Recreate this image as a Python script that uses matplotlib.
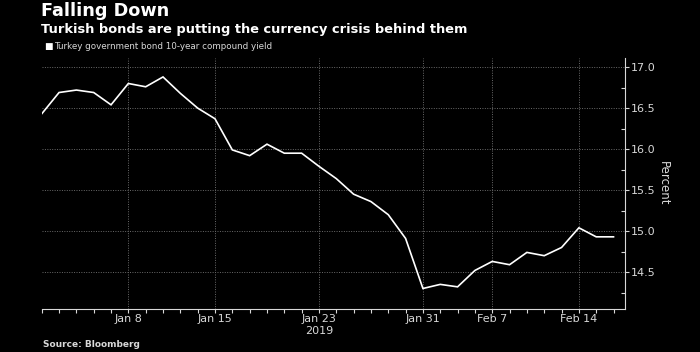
import matplotlib
matplotlib.use("Agg")
import matplotlib.pyplot as plt
from matplotlib.ticker import MultipleLocator, FixedLocator

# trading days (evenly spaced on the axis) and 10-year yield, percent
dates = ["Jan 1", "Jan 2", "Jan 3", "Jan 4", "Jan 7", "Jan 8", "Jan 9", "Jan 10",
         "Jan 11", "Jan 14", "Jan 15", "Jan 16", "Jan 17", "Jan 18", "Jan 21",
         "Jan 22", "Jan 23", "Jan 24", "Jan 25", "Jan 28", "Jan 29", "Jan 30",
         "Jan 31", "Feb 1", "Feb 4", "Feb 6", "Feb 7", "Feb 8", "Feb 11",
         "Feb 12", "Feb 13", "Feb 14", "Feb 15", "Feb 18"]
yields = [16.43, 16.69, 16.72, 16.69, 16.54, 16.80, 16.76, 16.88,
          16.68, 16.50, 16.37, 15.99, 15.92, 16.06, 15.95,
          15.95, 15.79, 15.64, 15.45, 15.36, 15.20, 14.91,
          14.30, 14.35, 14.32, 14.52, 14.63, 14.59, 14.74,
          14.70, 14.80, 15.04, 14.93, 14.93]
tick_labels = ["Jan 8", "Jan 15", "Jan 23", "Jan 31", "Feb 7", "Feb 14"]
y_ticks = [14.5, 15.0, 15.5, 16.0, 16.5, 17.0]

bg = "#000000"
fg = "#d8d8d8"
grid_col = "#6a6a6a"

fig = plt.figure(figsize=(7.0, 3.52), dpi=100, facecolor=bg)
ax = fig.add_axes([0.0596, 0.1222, 0.8337, 0.7128], facecolor=bg)

x = list(range(len(dates)))
ax.plot(x, yields, color="white", lw=1.2, solid_joinstyle="miter")

ax.set_xlim(0, len(dates) - 0.32)
ax.set_ylim(14.05, 17.11)

# x axis: a minor tick for every trading day, labels at a few dates
major_pos = [dates.index(d) for d in tick_labels]
ax.xaxis.set_major_locator(FixedLocator(major_pos))
ax.xaxis.set_minor_locator(FixedLocator(x))
ax.set_xticklabels(tick_labels)
ax.tick_params(axis="x", which="both", direction="out", length=3, width=0.8,
               color=fg, labelcolor=fg, labelsize=8, pad=0.5)
ax.text(dates.index("Jan 23"), 13.785, "2019", color=fg, fontsize=8,
        ha="center", va="center", transform=ax.transData)

# y axis on the right
ax.yaxis.tick_right()
ax.yaxis.set_label_position("right")
ax.yaxis.set_major_locator(FixedLocator(y_ticks))
ax.yaxis.set_minor_locator(MultipleLocator(0.25))
ax.set_yticklabels([f"{v:.1f}" for v in y_ticks])
ax.tick_params(axis="y", which="major", direction="out", length=3, width=0.8,
               color=fg, labelcolor=fg, labelsize=8, pad=1)
ax.tick_params(axis="y", which="minor", direction="in", length=3, width=0.8,
               color=fg)
ax.set_ylabel("Percent", color=fg, fontsize=8.5, rotation=270, labelpad=10)

for side in ["top", "left"]:
    ax.spines[side].set_visible(False)
for side in ["bottom", "right"]:
    ax.spines[side].set_color(fg)
    ax.spines[side].set_linewidth(0.8)

ax.grid(True, which="major", color=grid_col, linestyle=(0, (1, 1.5)), lw=0.7)

# titles, legend, source
fig.text(0.059, 0.995, "Falling Down", color="white", fontsize=12.7,
         fontweight="bold", ha="left", va="top")
fig.text(0.059, 0.935, "Turkish bonds are putting the currency crisis behind them",
         color="white", fontsize=9.35, fontweight="bold", ha="left", va="top")
fig.text(0.063, 0.868, "\u25a0", color="white", fontsize=6.5, ha="left", va="center")
fig.text(0.077, 0.868, "Turkey government bond 10-year compound yield",
         color=fg, fontsize=6.3, ha="left", va="center")
fig.text(0.061, 0.008, "Source: Bloomberg", color=fg, fontsize=6.5,
         fontweight="bold", ha="left", va="bottom")

fig.savefig("out.png", dpi=100, facecolor=bg)
